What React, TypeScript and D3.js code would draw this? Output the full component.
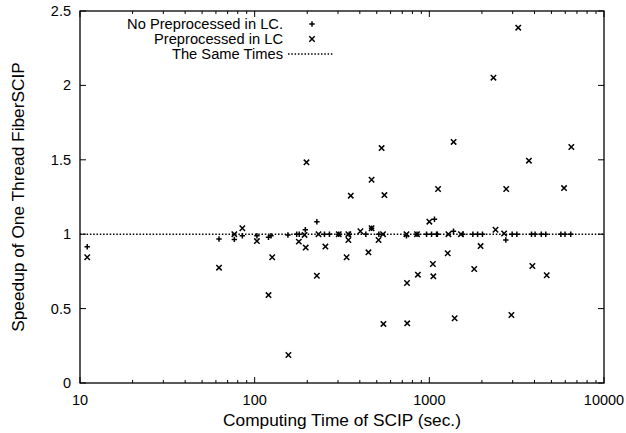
import React from "react";
import * as d3 from "d3";

const noPreX = [11, 62.5, 76.5, 85, 103, 120, 124, 155, 174, 180, 195, 227, 251, 268, 303, 348, 433, 467, 514, 740, 850, 964, 1030, 1070, 1100, 1112, 1375, 1553, 1775, 1890, 2015, 2740, 2980, 3170, 3845, 4030, 4375, 4640, 5665, 5980, 6450];
const noPreY = [0.916, 0.968, 0.965, 0.99, 0.99, 0.979, 0.99, 0.995, 1.0, 1.0, 1.03, 1.084, 1.0, 1.0, 1.0, 1.0, 1.0, 1.04, 1.0, 0.99, 1.0, 1.0, 1.0, 1.1, 1.0, 1.0, 1.02, 1.0, 1.0, 1.0, 1.0, 0.961, 1.0, 1.0, 1.0, 1.0, 1.0, 1.0, 1.0, 1.0, 1.0];

const preX = [11, 62.5, 76.5, 85, 103, 120, 126, 156, 179, 193, 196, 198, 227, 232, 254, 303, 336, 344, 344, 355, 403, 448, 467, 467, 512, 533, 543, 546, 553, 740, 745, 747, 850, 860, 1000, 1048, 1054, 1122, 1274, 1286, 1377, 1396, 1517, 1807, 1965, 2328, 2393, 2680, 2755, 2950, 3228, 3716, 3890, 4700, 5905, 6500];
const preY = [0.845, 0.775, 1.0, 1.04, 0.954, 0.591, 0.845, 0.188, 0.95, 0.995, 0.91, 1.483, 0.721, 1.0, 0.917, 1.0, 0.845, 1.0, 0.961, 1.259, 1.02, 0.878, 1.04, 1.366, 0.961, 1.579, 1.0, 0.397, 1.263, 1.0, 0.672, 0.401, 1.0, 0.728, 1.084, 0.8, 0.717, 1.304, 0.872, 1.0, 1.62, 0.435, 1.0, 0.766, 0.92, 2.052, 1.03, 1.005, 1.304, 0.457, 2.388, 1.494, 0.786, 0.724, 1.31, 1.586];

const xTicks = [10, 100, 1000, 10000];
const yTicks = [0, 0.5, 1, 1.5, 2, 2.5];
const legendLabels = ["No Preprocessed in LC.", "Preprocessed in LC", "The Same Times"];
const xTitle = "Computing Time of SCIP (sec.)";
const yTitle = "Speedup of One Thread FiberSCIP";

const W = 626, H = 433;
const L = 80, R = 604, T = 11, B = 383;
const FONT = "'Liberation Sans', Arial, Helvetica, sans-serif";

export default function App() {
  const x = d3.scaleLog().domain([10, 10000]).range([L, R]);
  const y = d3.scaleLinear().domain([0, 2.5]).range([B, T]);

  const minor: number[] = [];
  for (let dec = 10; dec < 10000; dec *= 10) {
    for (let k = 2; k <= 9; k++) minor.push(dec * k);
  }

  const s = 2.7;
  const plus = (cx: number, cy: number, key: string) => (
    <path key={key} d={`M${cx - s},${cy}H${cx + s}M${cx},${cy - s}V${cy + s}`} stroke="#000" strokeWidth={1.5} fill="none" />
  );
  const cross = (cx: number, cy: number, key: string) => (
    <path key={key} d={`M${cx - s},${cy - s}L${cx + s},${cy + s}M${cx - s},${cy + s}L${cx + s},${cy - s}`} stroke="#000" strokeWidth={1.5} fill="none" />
  );

  const legY = [24, 39, 54];
  const legTextX = 283;
  const legSymX = 312;

  return (
    <svg width={W} height={H} style={{ position: "absolute", left: 0, top: 0, background: "#fff" }} fontFamily={FONT}>
      <rect x={0} y={0} width={W} height={H} fill="#fff" />
      <line x1={L} x2={R} y1={y(1)} y2={y(1)} stroke="#000" strokeWidth={1.5} strokeDasharray="1.5,1.8" />
      {xTicks.map((t) => (
        <g key={"xt" + t}>
          <line x1={x(t)} x2={x(t)} y1={B} y2={B - 6} stroke="#000" />
          <line x1={x(t)} x2={x(t)} y1={T} y2={T + 6} stroke="#000" />
          <text x={x(t)} y={B + 22} fontSize={14.5} textAnchor="middle">{t}</text>
        </g>
      ))}
      {minor.map((t) => (
        <g key={"xm" + t}>
          <line x1={x(t)} x2={x(t)} y1={B} y2={B - 3} stroke="#000" />
          <line x1={x(t)} x2={x(t)} y1={T} y2={T + 3} stroke="#000" />
        </g>
      ))}
      {yTicks.map((t) => (
        <g key={"yt" + t}>
          <line x1={L} x2={L + 6} y1={y(t)} y2={y(t)} stroke="#000" />
          <line x1={R} x2={R - 6} y1={y(t)} y2={y(t)} stroke="#000" />
          <text x={L - 9} y={y(t) + 5} fontSize={14.5} textAnchor="end">{t}</text>
        </g>
      ))}
      <rect x={L} y={T} width={R - L} height={B - T} fill="none" stroke="#000" strokeWidth={1.3} />
      {noPreX.map((v, i) => plus(x(v), y(noPreY[i]), "p" + i))}
      {preX.map((v, i) => cross(x(v), y(preY[i]), "c" + i))}
      {legendLabels.map((lab, i) => (
        <text key={"l" + i} x={legTextX} y={legY[i] + 5} fontSize={14.7} textAnchor="end">{lab}</text>
      ))}
      {plus(legSymX, legY[0], "lp")}
      {cross(legSymX, legY[1], "lc")}
      <line x1={288} x2={334} y1={legY[2]} y2={legY[2]} stroke="#000" strokeWidth={1.5} strokeDasharray="1.5,1.8" />
      <text x={(L + R) / 2} y={426} fontSize={17.3} textAnchor="middle">{xTitle}</text>
      <text transform={`translate(24,${(T + B) / 2}) rotate(-90)`} fontSize={17.3} textAnchor="middle">{yTitle}</text>
    </svg>
  );
}
